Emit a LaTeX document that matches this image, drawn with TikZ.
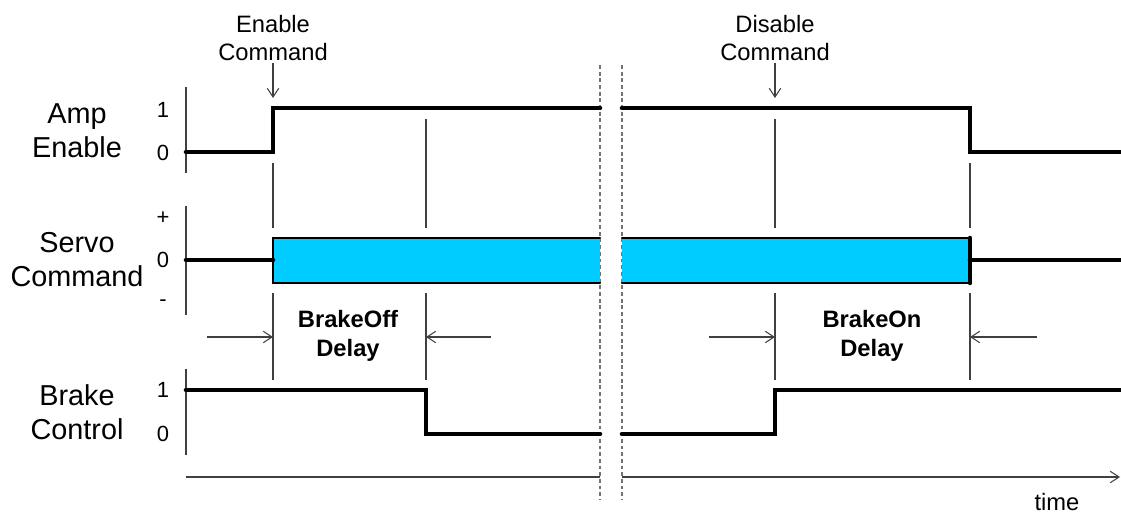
\documentclass[tikz,border=0pt]{standalone}
\usepackage{fontspec}
\setmainfont{Liberation Sans}
\usetikzlibrary{arrows.meta}

\definecolor{servofill}{HTML}{00CCFF}

\tikzset{
	signal/.style={line width=2.6pt,line cap=round,line join=miter},
	boxline/.style={line width=1.3pt,line cap=round},
	guide/.style={line width=0.6pt,black!75},
	marker/.style={guide,-{Straight Barb[length=5pt,width=6.5pt]}},
	cut/.style={line width=0.6pt,black!55,dash pattern=on 2.2pt off 1.6pt},
	lbl/.style={align=center,inner sep=1pt,font=\fontsize{16.4}{19.3}\selectfont},
	cmd/.style={align=center,inner sep=1pt,font=\fontsize{13.5}{16}\selectfont},
	delay/.style={align=center,inner sep=1pt,font=\fontsize{13.5}{16.4}\selectfont\bfseries},
	level/.style={inner sep=0pt,font=\fontsize{12.5}{14}\selectfont}
}

\begin{document}
\begin{tikzpicture}[x=0.02cm,y=-0.02cm]
		\useasboundingbox (0,0) rectangle (1121,514);

		\node[lbl] (amp) at (77,131) {Amp\\Enable};
		\node[lbl] (servo) at (77,260) {Servo\\Command};
		\node[lbl] (brake) at (77,412) {Brake\\Control};

		\node[level] (amp1) at (163,110) {1};
		\node[level] (amp0) at (163,153) {0};
		\node[level] (sp) at (163,218) {+};
		\node[level] (s0) at (163,260) {0};
		\node[level] (sm) at (163,303) {-};
		\node[level] (br1) at (163,390) {1};
		\node[level] (br0) at (163,434) {0};

		\draw[guide] (186,87) -- (186,173);
		\draw[guide] (186,206) -- (186,315);
		\draw[guide] (186,369) -- (186,455);

		\draw[cut] (600,65) -- (600,500);
		\draw[cut] (622,65) -- (622,500);

		\foreach \x/\t in {273/163,426/119,775/119,970/163} {
			\draw[guide] (\x,\t) -- (\x,228);
			\draw[guide] (\x,293) -- (\x,380);
		}

		\fill[servofill] (273,238) rectangle (600,283);
		\fill[servofill] (622,238) rectangle (970,283);
		\draw[boxline] (600,238) -- (273,238) -- (273,283) -- (600,283);
		\draw[boxline] (622,238) -- (970,238) -- (970,283) -- (622,283);

		\draw[signal] (186,152) -- (273,152) -- (273,108) -- (600,108);
		\draw[signal] (622,108) -- (970,108) -- (970,152) -- (1121,152);
		\draw[signal] (186,260) -- (273,260);
		\draw[signal] (970,238) -- (970,283);
		\draw[signal] (970,260) -- (1121,260);
		\draw[signal] (186,390) -- (426,390) -- (426,434) -- (600,434);
		\draw[signal] (622,434) -- (775,434) -- (775,390) -- (1121,390);

		\node[cmd] (en) at (273,38) {Enable\\Command};
		\node[cmd] (dis) at (775,38) {Disable\\Command};
		\coordinate (enat) at (273,98);
		\coordinate (disat) at (775,98);
		\draw[marker] (en.south) -- (enat);
		\draw[marker] (dis.south) -- (disat);

		\node[delay] (off) at (348,336) {BrakeOff\\Delay};
		\node[delay] (on) at (872,336) {BrakeOn\\Delay};
		\coordinate (offa) at (207,337);
		\coordinate (offb) at (491,337);
		\coordinate (ona) at (709,337);
		\coordinate (onb) at (1037,337);
		\draw[marker] (offa) -- (273,337);
		\draw[marker] (offb) -- (426,337);
		\draw[marker] (ona) -- (775,337);
		\draw[marker] (onb) -- (970,337);

		\coordinate (t0) at (186,477);
		\coordinate (t1) at (600,477);
		\coordinate (t2) at (622,477);
		\coordinate (tend) at (1120,477);
		\draw[guide] (t0) -- (t1);
		\draw[marker] (t2) -- (tend);
		\node[cmd,anchor=base] (time) at (1057,510) {time};
	\end{tikzpicture}
\end{document}
